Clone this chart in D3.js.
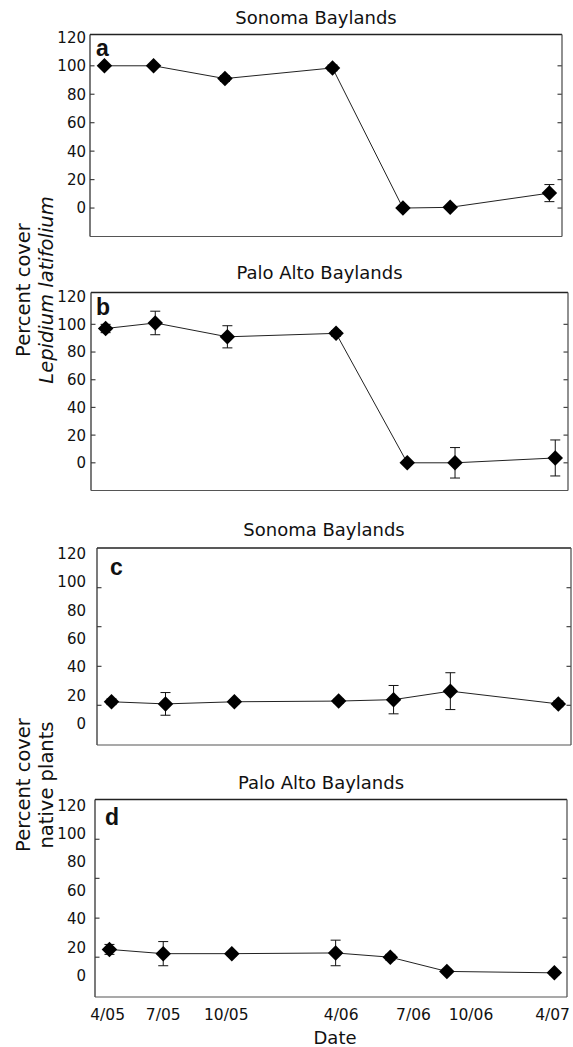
<!DOCTYPE html>
<html>
<head>
<meta charset="utf-8">
<script src="https://cdn.jsdelivr.net/npm/d3@7"></script>
<style>
  html, body { margin: 0; padding: 0; background: #fff; }
  svg { display: block; }
  text { font-family: "DejaVu Sans", Verdana, sans-serif; fill: #111; }
</style>
</head>
<body>
<svg id="chart" width="573" height="1047"></svg>
<script>
// ---- data ----
const panelTitles = ["Sonoma Baylands", "Palo Alto Baylands", "Sonoma Baylands", "Palo Alto Baylands"];
const panelLetters = ["a", "b", "c", "d"];

const dateLabels = ["4/05", "7/05", "10/05", "4/06", "7/06", "10/06", "4/07"];
const dateLabelMonths = [0, 3, 6.4, 12.6, 16.5, 19.6, 24];

// sampling dates, months since April 2005
const monthsAB = [0.1, 2.75, 6.6, 12.4, 16.2, 18.75, 24.1];
const monthsCD = [0.1, 3.0, 6.7, 12.3, 15.25, 18.3, 24.1];

// a: Lepidium cover, Sonoma
const coverA = [100, 100, 91, 98.5, 0, 0.5, 10.5];
const errA   = [1, 1, 2, 2, 0.5, 1, 6];
// b: Lepidium cover, Palo Alto
const coverB = [97, 101, 91, 93.5, 0, 0, 3.5];
const errB   = [3, 8.5, 8, 2, 1, 11, 13];
// c: native cover, Sonoma
const coverC = [15.5, 14, 15.5, 16, 17, 23, 14];
const errC   = [2, 8, 1.5, 1.5, 10, 13, 2];
// d: native cover, Palo Alto
const coverD = [18.5, 15.5, 15.5, 16, 13, 3, 2];
const errD   = [3.5, 8.5, 1.5, 9, 2, 1.5, 1.5];

const yTickLabels = [0, 20, 40, 60, 80, 100, 120];
const yTickMarksAB = [0, 20, 40, 60, 80, 100];
const yTickMarksCD = [13, 40.5, 68.5, 96];

const yTitleAB = ["Percent cover", "Lepidium latifolium"];
const yTitleCD = ["Percent cover", "native plants"];
const xTitle = "Date";

// ---- layout ----
const panels = [
  { title: panelTitles[0], letter: panelLetters[0], months: monthsAB, vals: coverA, errs: errA, marks: yTickMarksAB,
    box: { left: 90, right: 562, top: 34.5, bottom: 236.5 }, yDomain: [-20, 122], titleY: 23.5, letterDx: 6, letterDy: 21 },
  { title: panelTitles[1], letter: panelLetters[1], months: monthsAB, vals: coverB, errs: errB, marks: yTickMarksAB,
    box: { left: 91, right: 568, top: 292.5, bottom: 490.5 }, yDomain: [-20, 123], titleY: 278.5, letterDx: 5, letterDy: 22.5 },
  { title: panelTitles[2], letter: panelLetters[2], months: monthsCD, vals: coverC, errs: errC, marks: yTickMarksCD,
    box: { left: 97, right: 571, top: 548, bottom: 745 }, yDomain: [-15, 124], titleY: 536, letterDx: 13, letterDy: 27 },
  { title: panelTitles[3], letter: panelLetters[3], months: monthsCD, vals: coverD, errs: errD, marks: yTickMarksCD,
    box: { left: 95, right: 567, top: 799.5, bottom: 997 }, yDomain: [-15, 124], titleY: 788.5, letterDx: 10, letterDy: 25.5 }
];
const monthDomain = [-0.68, 24.78];

const svg = d3.select("#chart");
const diamond = d3.symbol().type(d3.symbolSquare).size(120);

panels.forEach((p, i) => {
  const x = d3.scaleLinear().domain(monthDomain).range([p.box.left, p.box.right]);
  const y = d3.scaleLinear().domain(p.yDomain).range([p.box.bottom, p.box.top]);
  const g = svg.append("g");
  const b = p.box;

  g.append("text")
    .attr("x", (b.left + b.right) / 2 - 10)
    .attr("y", p.titleY)
    .attr("text-anchor", "middle")
    .style("font-size", "18px")
    .text(p.title);

  g.selectAll(".yl").data(yTickLabels).join("text")
    .attr("x", 86)
    .attr("y", d => y(d))
    .attr("dy", "0.36em")
    .attr("text-anchor", "end")
    .style("font-size", "15px")
    .text(d => d);

  g.selectAll(".tl").data(p.marks).join("line")
    .attr("x1", b.left).attr("x2", b.left + 4.5)
    .attr("y1", d => y(d)).attr("y2", d => y(d))
    .attr("stroke", "#444").attr("stroke-width", 1.2);
  g.selectAll(".tr").data(p.marks).join("line")
    .attr("x1", b.right).attr("x2", b.right - 4.5)
    .attr("y1", d => y(d)).attr("y2", d => y(d))
    .attr("stroke", "#444").attr("stroke-width", 1.2);

  g.append("line").attr("x1", b.left).attr("x2", b.right).attr("y1", b.top).attr("y2", b.top)
    .attr("stroke", "#222").attr("stroke-width", 1.6);
  g.append("line").attr("x1", b.left).attr("x2", b.left).attr("y1", b.top).attr("y2", b.bottom)
    .attr("stroke", "#333").attr("stroke-width", 1.3);
  g.append("line").attr("x1", b.right).attr("x2", b.right).attr("y1", b.top).attr("y2", b.bottom)
    .attr("stroke", "#555").attr("stroke-width", 1.3);
  g.append("line").attr("x1", b.left).attr("x2", b.right).attr("y1", b.bottom).attr("y2", b.bottom)
    .attr("stroke", "#555").attr("stroke-width", 1.2);

  g.append("text")
    .attr("x", b.left + p.letterDx)
    .attr("y", b.top + p.letterDy)
    .style("font-family", "'Liberation Sans', Arial, sans-serif")
    .style("font-weight", "bold")
    .style("font-size", "23px")
    .text(p.letter);

  const pts = p.vals.map((v, k) => ({ m: p.months[k], v: v, e: p.errs[k] }));

  g.append("path")
    .datum(pts)
    .attr("fill", "none")
    .attr("stroke", "#222")
    .attr("stroke-width", 1)
    .attr("d", d3.line().x(d => x(d.m)).y(d => y(d.v)));

  const eb = g.selectAll(".eb").data(pts).join("g");
  eb.append("line")
    .attr("x1", d => x(d.m)).attr("x2", d => x(d.m))
    .attr("y1", d => y(d.v - d.e)).attr("y2", d => y(d.v + d.e))
    .attr("stroke", "#111").attr("stroke-width", 1);
  eb.append("line")
    .attr("x1", d => x(d.m) - 5).attr("x2", d => x(d.m) + 5)
    .attr("y1", d => y(d.v + d.e)).attr("y2", d => y(d.v + d.e))
    .attr("stroke", "#111").attr("stroke-width", 1);
  eb.append("line")
    .attr("x1", d => x(d.m) - 5).attr("x2", d => x(d.m) + 5)
    .attr("y1", d => y(d.v - d.e)).attr("y2", d => y(d.v - d.e))
    .attr("stroke", "#111").attr("stroke-width", 1);

  g.selectAll(".mk").data(pts).join("path")
    .attr("d", diamond)
    .attr("transform", d => `translate(${x(d.m)},${y(d.v)}) rotate(45)`)
    .attr("fill", "#000");

  if (i === 3) {
    g.selectAll(".xl").data(dateLabels).join("text")
      .attr("x", (d, k) => x(dateLabelMonths[k]))
      .attr("y", 1020)
      .attr("text-anchor", "middle")
      .style("font-size", "15.5px")
      .text(d => d);
    g.append("text")
      .attr("x", (b.left + b.right) / 2 + 4)
      .attr("y", 1044)
      .attr("text-anchor", "middle")
      .style("font-size", "18px")
      .text(xTitle);
  }
});

function yTitle(lines, cy, italicSecond) {
  const t = svg.append("text")
    .attr("transform", `translate(30,${cy}) rotate(-90)`)
    .attr("text-anchor", "middle")
    .style("font-size", "19.5px");
  t.append("tspan").attr("x", 0).attr("y", 0).text(lines[0]);
  t.append("tspan").attr("x", 0).attr("y", 23)
    .style("font-style", italicSecond ? "italic" : "normal")
    .text(lines[1]);
}
yTitle(yTitleAB, 290, true);
yTitle(yTitleCD, 785, false);
</script>
</body>
</html>
